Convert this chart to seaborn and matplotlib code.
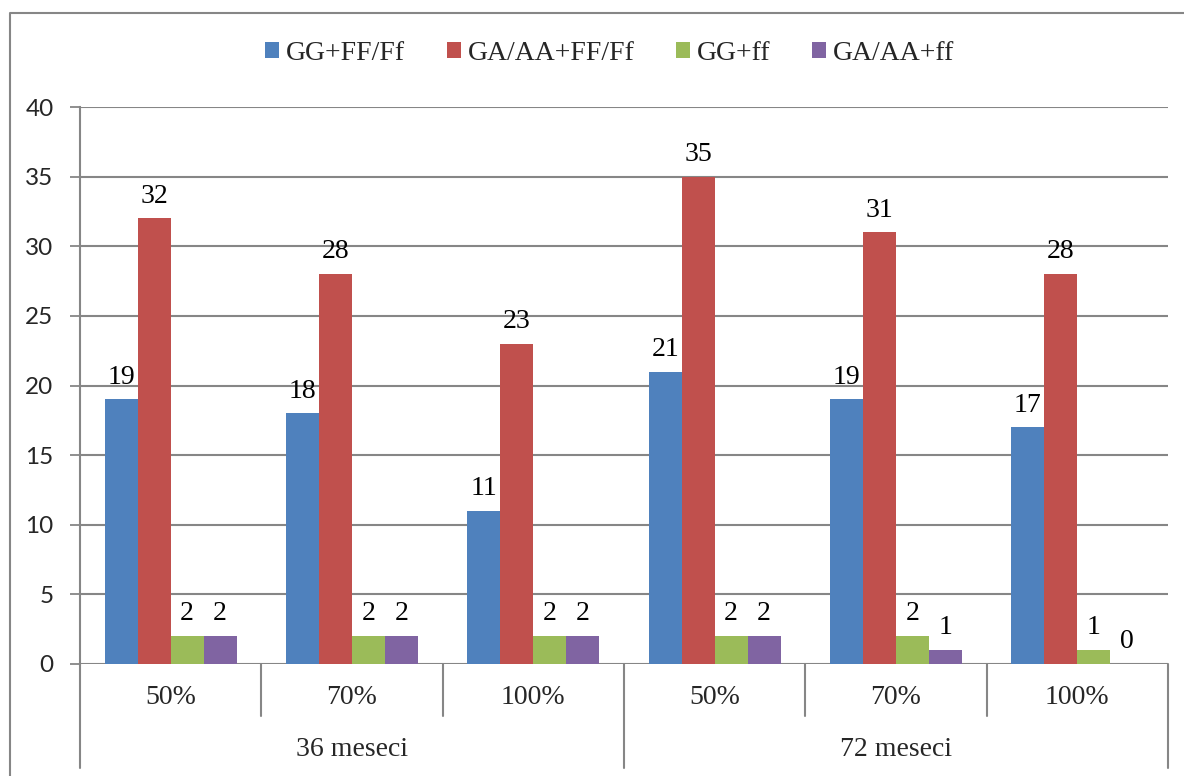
import matplotlib
matplotlib.use("Agg")
import matplotlib.pyplot as plt
import seaborn as sns
import pandas as pd
from matplotlib.lines import Line2D
from matplotlib.patches import Patch

# Chart data
periods = ["36 meseci", "72 meseci"]
levels = ["50%", "70%", "100%"]
series = ["GG+FF/Ff", "GA/AA+FF/Ff", "GG+ff", "GA/AA+ff"]
gg_ff = [19, 18, 11, 21, 19, 17]
gaaa_ff = [32, 28, 23, 35, 31, 28]
gg_f = [2, 2, 2, 2, 2, 1]
gaaa_f = [2, 2, 2, 2, 1, 0]
colors = ["#4F81BD", "#C0504D", "#9BBB59", "#8064A2"]
y_ticks = [0, 5, 10, 15, 20, 25, 30, 35, 40]

sns.set_theme(style="white")
serif = "Liberation Serif"
fs = 20
grid_col = "#868686"

keys = [f"{p}|{l}" for p in periods for l in levels]
rows = []
for name, vals in zip(series, [gg_ff, gaaa_ff, gg_f, gaaa_f]):
    for k, v in zip(keys, vals):
        rows.append({"group": k, "series": name, "value": v})
df = pd.DataFrame(rows)

W, H = 1184, 776
fig = plt.figure(figsize=(W / 100, H / 100), dpi=100)
ax = fig.add_axes([80 / W, (H - 664) / H, (1168 - 80) / W, (664 - 107) / H])

sns.barplot(data=df, x="group", y="value", hue="series", order=keys,
            hue_order=series, palette=colors, width=0.727, gap=0,
            linewidth=0, saturation=1, ax=ax, legend=False)

ax.set_xlim(-0.5, len(keys) - 0.5)
ax.set_ylim(0, 40)
ax.set_yticks(y_ticks)
ax.set_yticklabels([str(t) for t in y_ticks], fontsize=17.5, family="Lato")
ax.tick_params(axis="y", length=7, width=1.3, color=grid_col, pad=12, left=True)
ax.tick_params(axis="x", bottom=False, labelbottom=False)
ax.set_xlabel("")
ax.set_ylabel("")
ax.yaxis.grid(True, color=grid_col, linewidth=1.5)
ax.set_axisbelow(True)
for s in ["top", "right", "bottom"]:
    ax.spines[s].set_visible(False)
ax.spines["left"].set_color(grid_col)
ax.spines["left"].set_linewidth(1.5)

# value labels
for cont in ax.containers:
    ax.bar_label(cont, labels=[f"{int(v)}" for v in cont.datavalues],
                 padding=7, fontsize=fs, family=serif, color="black")

# hierarchical category axis
tr = ax.get_xaxis_transform()
inner_y = -52 / 557
outer_y = -104 / 557
for i in range(len(keys) + 1):
    x = i - 0.5
    low = outer_y if i % len(levels) == 0 else inner_y
    ax.add_line(Line2D([x, x], [0, low], transform=tr, color=grid_col,
                       linewidth=1.5, clip_on=False))
for i, k in enumerate(keys):
    ax.text(i, -33 / 557, k.split("|")[1], transform=tr, ha="center",
            va="center", fontsize=fs, family=serif)
for j, p in enumerate(periods):
    c = j * len(levels) + (len(levels) - 1) / 2
    ax.text(c, -86 / 557, p, transform=tr, ha="center", va="center",
            fontsize=fs, family=serif)

# legend
handles = [Patch(facecolor=c, edgecolor="none") for c in colors]
fig.legend(handles, series, loc="center", bbox_to_anchor=(610 / W, 1 - 53 / H),
           ncol=4, frameon=False, handlelength=0.5, handleheight=0.5,
           handletextpad=0.25, columnspacing=1.5,
           prop={"family": serif, "size": fs})

# outer chart frame
fig.add_artist(Line2D([10 / W, 10 / W, 1.01], [-0.01, 1 - 13 / H, 1 - 13 / H],
                      transform=fig.transFigure, color=grid_col, linewidth=1.5))

fig.savefig("out.png", dpi=100, facecolor="white")
